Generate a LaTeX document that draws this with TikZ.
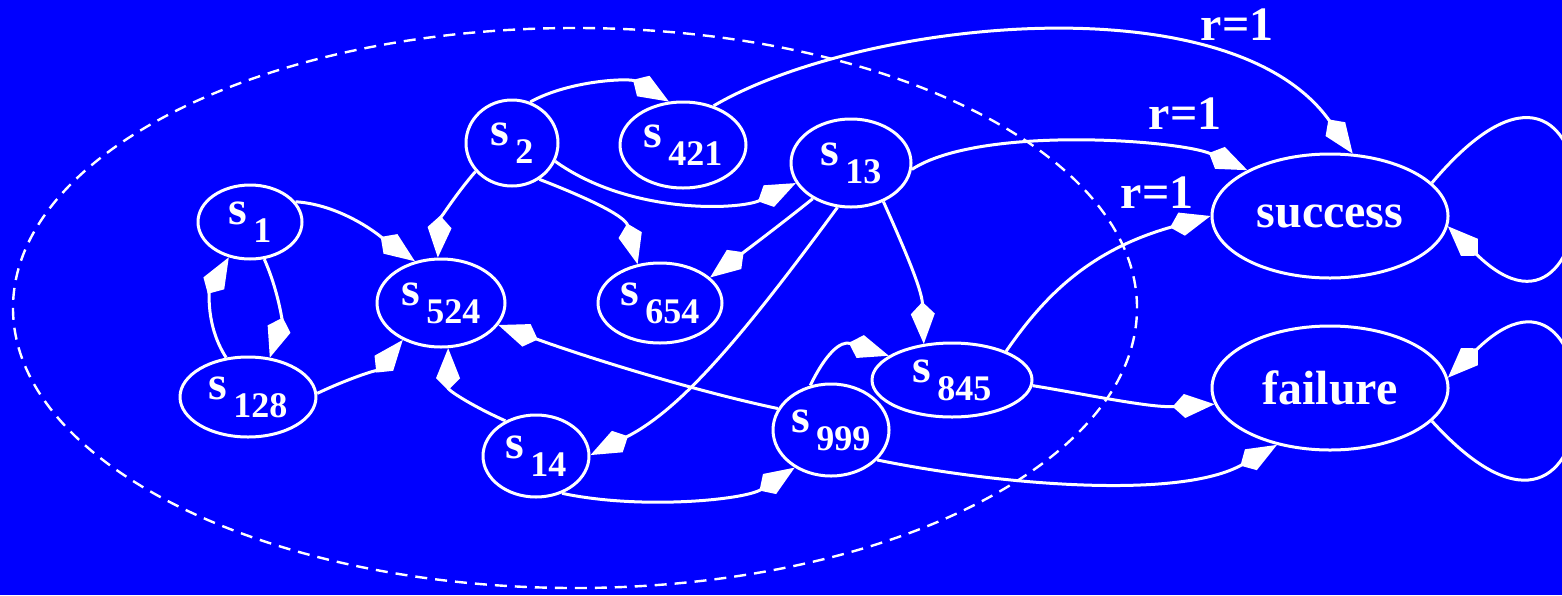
\documentclass[tikz,border=0pt]{standalone}
\usepackage{fontspec}
\setmainfont{Liberation Serif}
\usepackage{tikz}
\usetikzlibrary{arrows.meta,shapes.geometric}
\definecolor{bgblue}{HTML}{0000FF}
\newcommand{\sname}[1]{s\hspace{3pt}\raisebox{-9pt}{\fontsize{18}{18}\selectfont #1}}
\tikzset{net/.style={x=0.5pt,y=-0.5pt,line join=round,>={Kite[length=21pt,width=12pt,inset=6pt]}},
  state/.style={ellipse,draw=white,line width=1.5pt,text=white,inner sep=0pt,font=\fontsize{24}{24}\selectfont\bfseries},
  edge/.style={white,line width=1.5pt,->},
  lbl/.style={text=white,inner sep=0pt,font=\fontsize{24}{24}\selectfont\bfseries}}

\begin{document}
\begin{tikzpicture}[net]
  \useasboundingbox (0,0) rectangle (1562,595);
  \clip (0,0) rectangle (1562,595);
  \fill[bgblue] (0,0) rectangle (1562,595);
  \draw[white,line width=1.2pt,dash pattern=on 6pt off 4pt] (575,308) ellipse [x radius=281pt,y radius=140pt];

  \node[state,minimum width=52pt,minimum height=37pt] (s1) at (250,222) {\sname{1}};
  \node[state,minimum width=68pt,minimum height=40pt] (s128) at (248,397) {\sname{128}};
  \node[state,minimum width=64pt,minimum height=44pt] (s524) at (441,303) {\sname{524}};
  \node[state,minimum width=46pt,minimum height=43pt] (s2) at (512,143) {\sname{2}};
  \node[state,minimum width=63pt,minimum height=43pt] (s421) at (683,145) {\sname{421}};
  \node[state,minimum width=60pt,minimum height=44pt] (s13) at (851,163) {\sname{13}};
  \node[state,minimum width=62pt,minimum height=40pt] (s654) at (660,303) {\sname{654}};
  \node[state,minimum width=80pt,minimum height=37pt] (s845) at (952,380) {\sname{845}};
  \node[state,minimum width=58pt,minimum height=46pt] (s999) at (831,430) {\sname{999}};
  \node[state,minimum width=53pt,minimum height=41pt] (s14) at (536,456) {\sname{14}};
  \node[state,minimum width=118pt,minimum height=62pt] (success) at (1330,216) {success};
  \node[state,minimum width=118pt,minimum height=62pt] (failure) at (1330,388) {failure};

  \node[lbl] (r421) at (1237,25) {r=1};
  \node[lbl] (r13) at (1185,114) {r=1};
  \node[lbl] (r845) at (1157,193) {r=1};

  \draw[edge] (s1.24) .. controls (345,205) and (385,240) .. (s524.122);
  \draw[edge] (s128.119) .. controls (205,325) and (210,290) .. (s1.-121);
  \draw[edge] (s1.-69) .. controls (278,290) and (282,320) .. (s128.61);
  \draw[edge] (s128.3) .. controls (345,380) and (380,368) .. (s524.-136);
  \draw[edge] (s2.-142) .. controls (455,195) and (440,220) .. (s524.94);
  \draw[edge] (s2.66) .. controls (570,80) and (630,78) .. (s421.108);
  \draw[edge] (s2.-23) .. controls (630,215) and (740,210) .. (s13.-160);
  \draw[edge] (s2.-53) .. controls (580,195) and (625,215) .. (s654.120);
  \draw[edge] (s421.52) .. controls (860,20) and (1230,-20) .. (success.70);
  \draw[edge] (s13.-6) .. controls (980,125) and (1180,140) .. (success.151);
  \draw[edge] (s13.-137) .. controls (780,225) and (740,255) .. (s654.27);
  \draw[edge] (s13.-107) .. controls (740,340) and (680,410) .. (s14.1);
  \draw[edge] (s13.-50) .. controls (905,250) and (922,290) .. (s845.128);
  \draw[edge] (s999.158) .. controls (690,390) and (580,355) .. (s524.-21);
  \draw[edge] (s14.131) .. controls (470,405) and (448,390) .. (s524.-81);
  \draw[edge] (s14.-55) .. controls (640,510) and (745,500) .. (s999.-134);
  \draw[edge] (s999.115) .. controls (825,355) and (840,340) .. (s845.159);
  \draw[edge] (s845.28) .. controls (1045,295) and (1090,250) .. (success.180);
  \draw[edge] (s845.-4) .. controls (1090,395) and (1150,408) .. (failure.188);
  \draw[edge] (s999.-33) .. controls (1000,485) and (1180,500) .. (failure.-133);
  \draw[edge] (success.18) .. controls (1620,-40) and (1615,390) .. (success.-5);
  \draw[edge] (failure.-18) .. controls (1620,628) and (1615,214) .. (failure.5);
\end{tikzpicture}
\end{document}
